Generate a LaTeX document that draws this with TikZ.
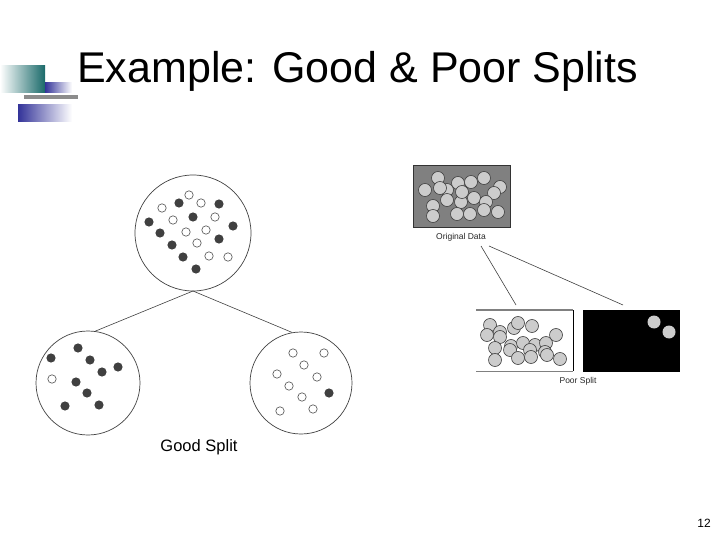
\documentclass[tikz,border=0pt]{standalone}
\usepackage{fontspec}
\setmainfont{Liberation Sans}
\begin{document}
\begin{tikzpicture}[x=1pt,y=-1pt,
  fd/.style={fill=black!75,draw=none},
  od/.style={draw=black!70,fill=white,line width=0.6pt},
  ld/.style={draw=black!75,fill=black!20,line width=0.6pt},
  bigc/.style={draw=black!75,line width=0.7pt},
  conn/.style={draw=black!75,line width=0.6pt}]
\useasboundingbox (0,0) rectangle (720,540);
% decoration
\shade[left color=white,right color=teal!70!black!90] (0,66) rectangle (45,93);
\shade[left color=blue!50!black!80,right color=white] (45,83) rectangle (72,93);
\shade[left color=blue!50!black!80,right color=white] (18,105) rectangle (72,122);
\fill[black!45] (24,95) rectangle (78,99);
\node[anchor=base west,font=\fontsize{43}{43}\selectfont,inner sep=0] (title) at (77,83) {Example: Good \& Poor Splits};
% good split tree
\node[circle,bigc,minimum size=116,inner sep=0] (top) at (193,233) {};
\node[circle,bigc,minimum size=104,inner sep=0] (left) at (88,383) {};
\node[circle,bigc,minimum size=102,inner sep=0] (right) at (301,383) {};
\coordinate (tb) at (193,291);
\draw[conn] (tb) -- (left.82);
\draw[conn] (tb) -- (right.100);
\foreach \p in {(179,203),(219,204),(193,217),(149,222),(233,226),(160,233),(219,239),(172,245),(183,257),(196,269),
  (51,358),(78,348),(90,360),(118,367),(102,372),(76,382),(87,393),(65,406),(99,405),(329,393)}
  \path[fd] \p circle (4.6);
\foreach \p in {(189,195),(162,208),(201,203),(173,220),(215,217),(186,232),(206,230),(197,243),(209,256),(228,257),
  (52,379),(293,353),(324,353),(304,365),(277,374),(317,377),(289,386),(302,397),(313,409),(280,411)}
  \path[od] \p circle (4.2);
\node[font=\fontsize{16.5}{16.5}\selectfont] (gs) at (199,447) {Good Split};
% original data
\node[draw=black!80,fill=black!50,minimum width=97,minimum height=62,inner sep=0,line width=0.6pt] (orig) at (461.5,196) {};
\foreach \p in {(425,190),(438,178),(447,190),(458,183),(471,182),(484,178),(500,187),(494,193),(433,206),(447,200),
  (461,202),(474,198),(486,202),(433,216),(457,214),(470,214),(484,210),(498,212),(440,188),(462,192)}
  \path[ld] \p circle (6.5);
\node[font=\fontsize{8.5}{9}\selectfont,text=black!85] (ol) at (461,237) {Original Data};
% poor split
\fill[white] (476,310) rectangle (573,371);
\draw[black!50,line width=1.5pt] (476,310) -- (573,310);
\draw[black!50,line width=1pt] (476,371) -- (573,371);
\draw[black,line width=0.8pt] (573,310) -- (573,371);
\node[fill=black,minimum width=97,minimum height=62,inner sep=0] (pr) at (631.5,341) {};
\foreach \p in {(490,325),(500,332),(514,328),(518,323),(532,326),(487,335),(500,337),(511,346),(523,343),(535,345),
  (546,343),(556,335),(495,348),(510,350),(530,350),(545,352),(495,360),(518,358),(531,357),(547,355),(560,359)}
  \path[ld] \p circle (6.5);
\path[fill=black!20] (654,322) circle (6.5) (669,332) circle (6.5);
\node[font=\fontsize{8.5}{9}\selectfont,text=black!85] (psl) at (578,381) {Poor Split};
\coordinate (o1) at (481,246);
\coordinate (o2) at (489,246);
\coordinate (p1) at (516,305);
\coordinate (p2) at (623,305);
\draw[conn] (o1) -- (p1);
\draw[conn] (o2) -- (p2);
\node[font=\fontsize{12}{12}\selectfont] (pg) at (704,523) {12};
\end{tikzpicture}
\end{document}
